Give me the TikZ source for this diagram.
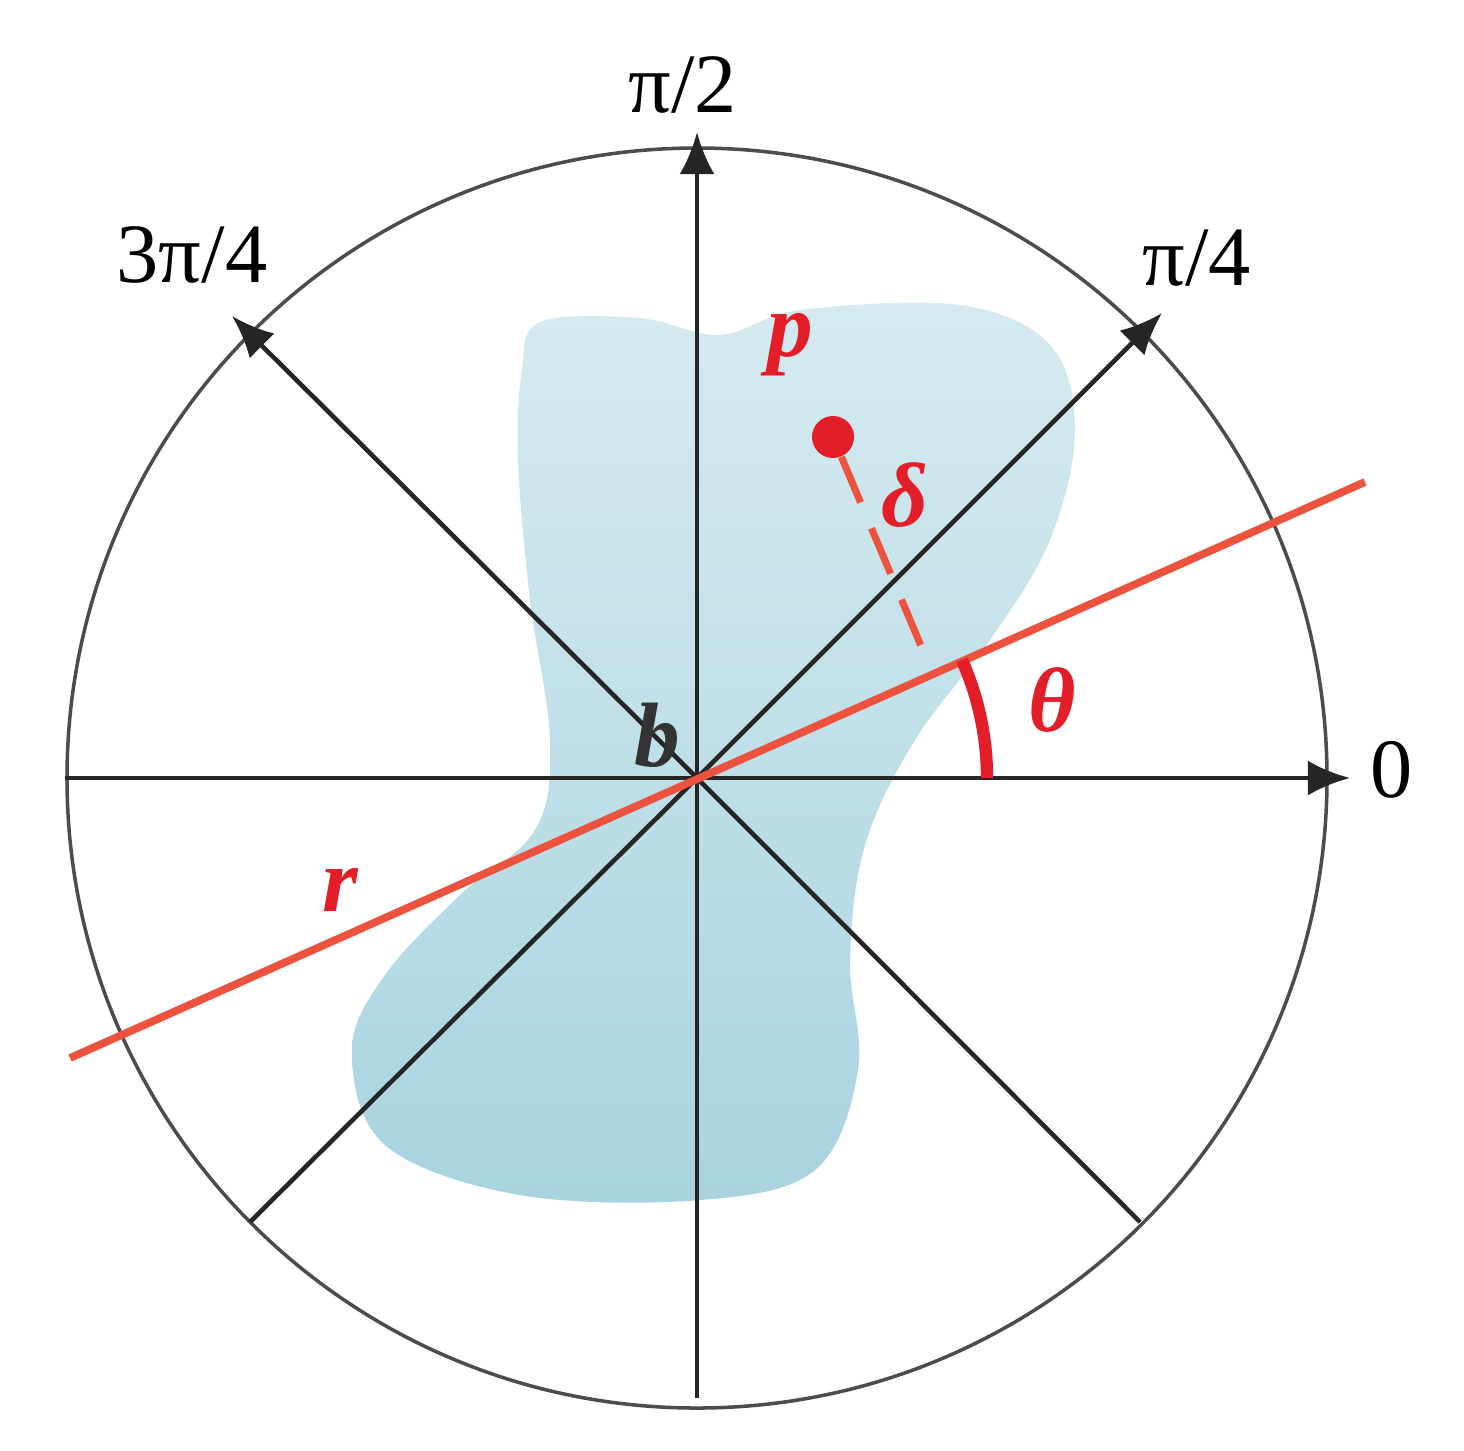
\documentclass[tikz,border=0pt]{standalone}
\usepackage{fontspec}
\setmainfont{Liberation Serif}
\usepackage{unicode-math}
\usetikzlibrary{arrows.meta}
\definecolor{blobtop}{RGB}{214,234,240}
\definecolor{blobbot}{RGB}{168,212,223}
\definecolor{rline}{RGB}{236,82,62}
\definecolor{rtext}{RGB}{228,30,40}
\begin{document}
\begin{tikzpicture}[x=0.01cm,y=-0.01cm,
  ax/.style={line width=1.3pt,black!85},
  tip/.style={-{Latex[length=12pt,width=10pt]}},
  lbl/.style={font=\fontsize{24}{28}\selectfont},
  rl/.style={font=\fontsize{26}{30}\selectfont\bfseries\itshape,text=rtext}]
\useasboundingbox (0,0) rectangle (1464,1450);
\fill[white] (0,0) rectangle (1464,1450);
\coordinate (c) at (697,778);
\shade[top color=blobtop, bottom color=blobbot]
 plot[smooth cycle, tension=0.6] coordinates {(540,322) (640,318) (720,335) (800,310) (960,305) (1050,345) (1075,430) (1050,540) (990,640) (915,740) (865,845) (850,960) (858,1070) (815,1170) (700,1200) (520,1195) (385,1145) (352,1050) (385,975) (460,895) (535,830) (550,740) (530,600) (518,460) (522,370)};
\draw[black!70, line width=1pt] (c) circle (630);
\draw[ax] (c) -- (65,778);
\draw[ax] (c) -- (697,1398);
\draw[ax] (c) -- (250,1222);
\draw[ax] (c) -- (1140,1222);
\draw[ax,tip] (c) -- (1350,778);
\draw[ax,tip] (c) -- (697,132);
\draw[ax,tip] (c) -- (1162,313);
\draw[ax,tip] (c) -- (232,316);
\node[lbl] (l0) at (1392,770) {0};
\node[lbl] (l1) at (683,85) {π/2};
\node[lbl] (l2) at (192,255) {3π/4};
\node[lbl] (l3) at (1197,258) {π/4};
\draw[rline, line width=2.2pt] (70,1058) -- (1365,482);
\coordinate (f) at (932,672);
\node[circle,fill=rtext,inner sep=0pt,minimum size=0.42cm] (p) at (833,437) {};
\draw[rline, line width=2pt, dash pattern=on 14pt off 8pt] (p) -- (f);
\draw[rtext, line width=3.5pt] (987,778) arc[start angle=0,end angle=-24,x radius=290,y radius=290];
\node[rl] (pl) at (790,345) {p};
\node[rl] (dl) at (905,495) {δ};
\node[rl] (tl) at (1052,700) {θ};
\node[rl] (rl1) at (340,890) {r};
\node[font=\fontsize{26}{30}\selectfont\bfseries\itshape, text=black!80] (bl) at (657,735) {b};
\end{tikzpicture}
\end{document}
